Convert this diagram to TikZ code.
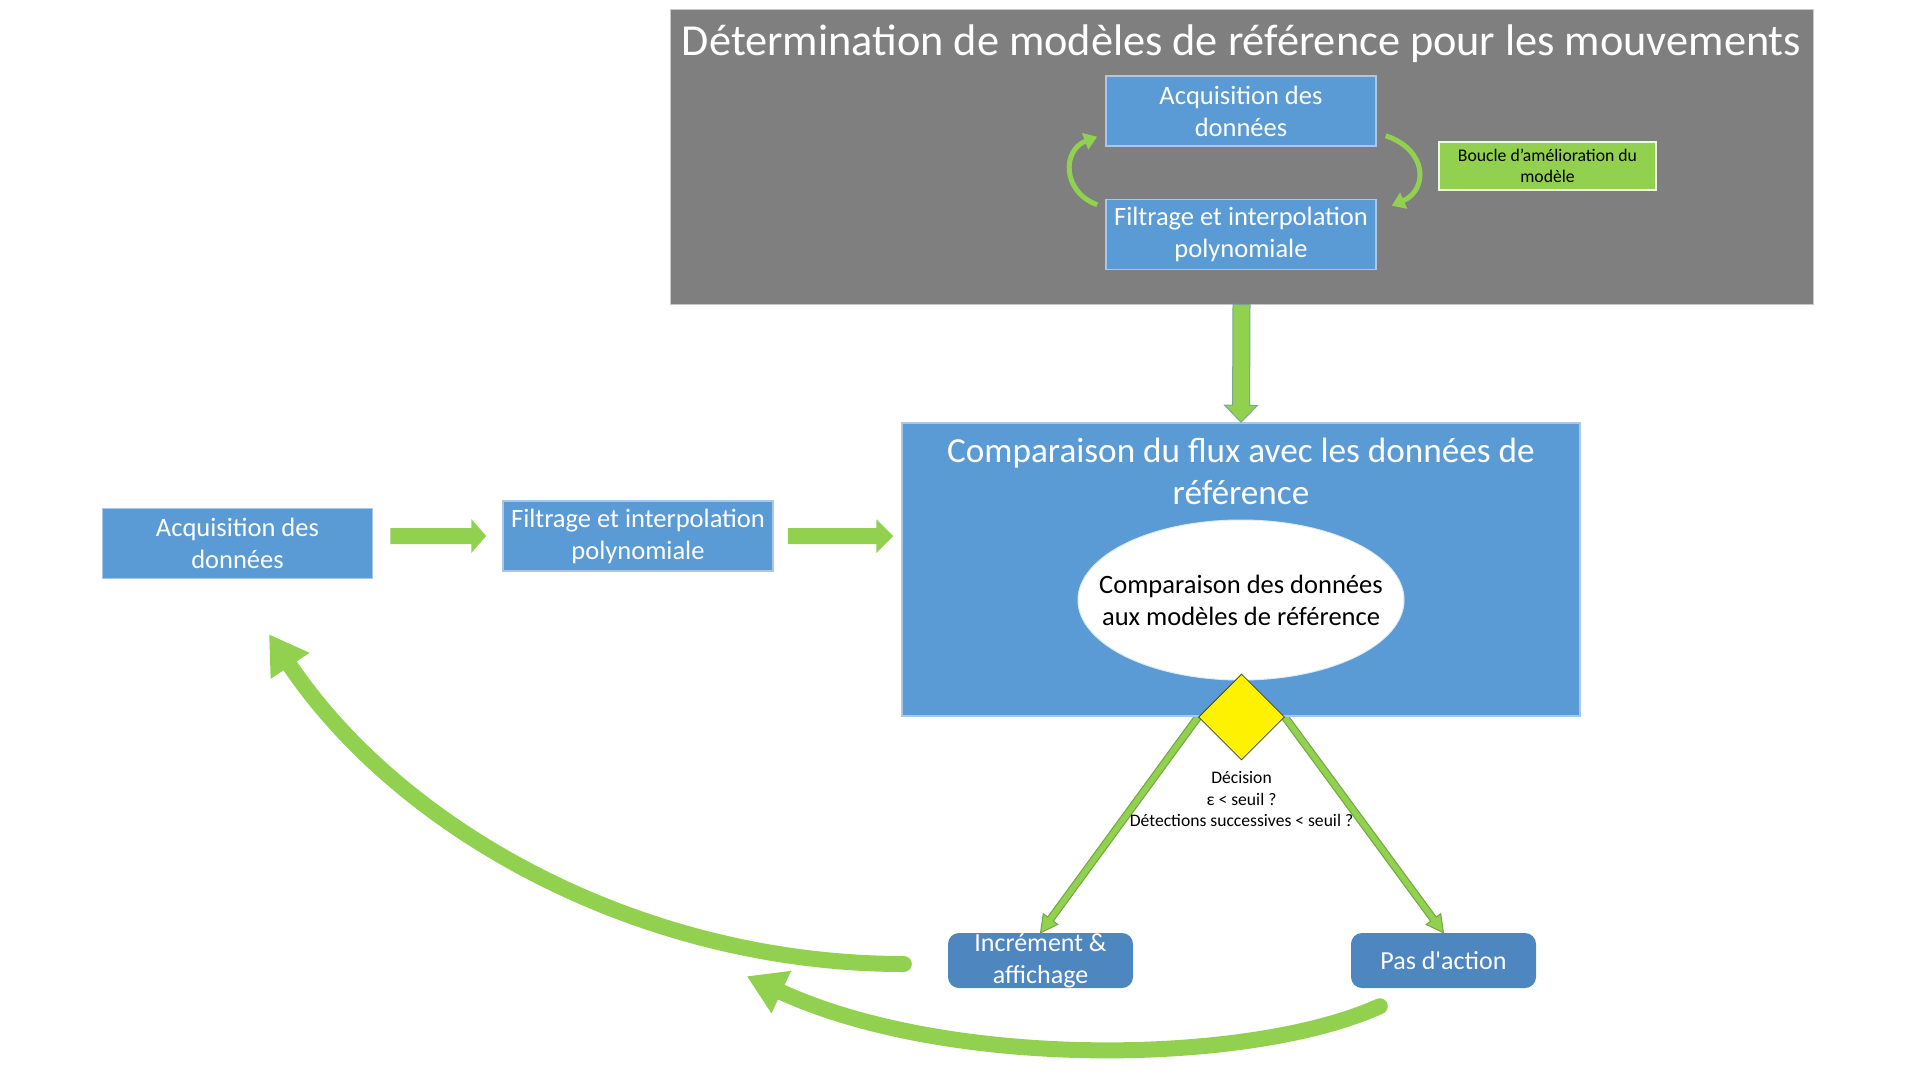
\documentclass[tikz,border=0pt]{standalone}
\usepackage{fontspec}
\setmainfont{Carlito}[Ligatures=TeXOff]
\usetikzlibrary{calc,shapes.geometric,arrows.meta}
\definecolor{gbox}{HTML}{7F7F7F}
\definecolor{gline}{HTML}{C8C8C8}
\definecolor{bbox}{HTML}{5B9BD5}
\definecolor{bline}{HTML}{A9C7E8}
\definecolor{dbox}{HTML}{4E86BF}
\definecolor{grn}{HTML}{92D050}
\definecolor{grnd}{HTML}{6FA83E}
\definecolor{grnb}{HTML}{78A890}
\pgfdeclarelayer{bg}
\pgfsetlayers{bg,main}
\newcommand\blkarrow[6]{%
  \path (#2) coordinate (ba-s) (#3) coordinate (ba-tip);
  \path ($(ba-tip)!#6!(ba-s)$) coordinate (ba-h);
  \filldraw[#1] ($(ba-s)!#4!90:(ba-tip)$) -- ($(ba-h)!#4!90:(ba-tip)$) -- ($(ba-h)!#5!90:(ba-tip)$) -- (ba-tip)
     -- ($(ba-h)!#5!-90:(ba-tip)$) -- ($(ba-h)!#4!-90:(ba-tip)$) -- ($(ba-s)!#4!-90:(ba-tip)$) -- cycle;}
\begin{document}
\begin{tikzpicture}[x=1pt,y=-1pt,
  box/.style={draw=bline, line width=1.5pt, fill=bbox, text=white, align=center,
    font=\fontsize{26.5}{32}\selectfont, minimum width=270pt, minimum height=70pt, inner sep=0pt},
  rbox/.style={fill=dbox, rounded corners=11pt, text=white, align=center,
    font=\fontsize{26}{32}\selectfont, minimum width=185pt, minimum height=55pt, inner sep=0pt},
  lbl/.style={fill=grn, draw=white!85!grn, line width=1.2pt, align=center, text=black,
    font=\fontsize{17.7}{21}\selectfont, minimum width=217pt, minimum height=48pt, inner sep=0pt},
  bigcurve/.style={draw=grn, line width=16pt, line cap=round, -{Triangle[width=44pt,length=38pt]}},
  loopcurve/.style={draw=grn, line width=5pt, -{Triangle[width=17pt,length=13pt]}},
  flatarrow/.style={fill=grn, draw=none},
  vertarrow/.style={fill=grn, draw=grnb, line width=1pt},
  diagarrow/.style={fill=grn, draw=grnd, line width=1pt}
]
\useasboundingbox (0,0) rectangle (1920,1080);
\begin{pgfonlayer}{bg}
\fill[white] (0,0) rectangle (1920,1080);
\end{pgfonlayer}

% top panel
\node[fill=gbox, draw=gline, line width=1pt, minimum width=1143pt, minimum height=295pt, inner sep=0pt] (det) at (1241.5,156.5) {};
\node[text=white, font=\fontsize{44.3}{50}\selectfont, inner sep=0pt] (dett) at (1241.5,44) {Détermination de modèles de référence pour les mouvements};
\node[box] (acq1) at (1241,111) {Acquisition des\\données};
\node[box] (fil1) at (1241,234.5) {Filtrage et interpolation\\polynomiale};
\node[lbl] (boucle) at (1547.5,166) {Boucle d’amélioration du\\modèle};

\coordinate (l1s) at ($(fil1.north west)+(-8,6)$);
\coordinate (l1e) at ($(acq1.south west)+(-8,-10)$);
\coordinate (r1s) at ($(acq1.south east)+(9,-11)$);
\coordinate (r1e) at ($(fil1.north east)+(15,7)$);
\draw[loopcurve] (l1s) .. controls (1062,192) and (1062,150) .. (l1e);
\draw[loopcurve] (r1s) .. controls (1428,150) and (1428,190) .. (r1e);

% comparison block
\node[fill=bbox, draw=bline, line width=1.5pt, minimum width=678pt, minimum height=293pt, inner sep=0pt] (cmp) at (1241,569.5) {};
\node[text=white, align=center, font=\fontsize{35.2}{42}\selectfont, inner sep=0pt] (cmpt) at (1241,471) {Comparaison du flux avec les données de\\référence};
\node[ellipse, fill=white, draw=white!80!bbox, line width=1pt, minimum width=326pt, minimum height=160pt, inner sep=0pt] (ell) at (1241,600) {};
\node[align=center, font=\fontsize{26.5}{32}\selectfont, inner sep=0pt] (ellt) at (ell.center) {Comparaison des données\\aux modèles de référence};
\node[diamond, fill=yellow, draw=black!75, line width=0.8pt, minimum width=86pt, minimum height=86pt, inner sep=0pt] (dia) at (1241.5,717) {};
\node[align=center, font=\fontsize{17.6}{21.5}\selectfont, inner sep=0pt] (dec) at (1241.5,799) {Décision\\ε < seuil ?\\Détections successives < seuil ?};

\blkarrow{vertarrow}{det.south}{cmp.north}{8.5pt}{16.5pt}{17pt}

% input chain
\node[box] (acq2) at (237.5,543.5) {Acquisition des\\données};
\node[box] (fil2) at (638,536) {Filtrage et interpolation\\polynomiale};
\coordinate (h1s) at ($(acq2.east |- fil2.west)+(17,0)$);
\coordinate (h1e) at ($(fil2.west)+(-16,0)$);
\coordinate (h2s) at ($(fil2.east)+(14,0)$);
\coordinate (h2e) at ($(cmp.west |- fil2.east)+(-8,0)$);
\blkarrow{flatarrow}{h1s}{h1e}{8pt}{17pt}{15pt}
\blkarrow{flatarrow}{h2s}{h2e}{8pt}{17pt}{17pt}

% outcomes
\node[rbox] (inc) at (1040.5,960.5) {Incrément \&\\affichage};
\node[rbox] (pas) at (1443.5,960.5) {Pas d'action};
\begin{pgfonlayer}{bg}
\blkarrow{diagarrow}{dia.west}{inc.north}{3.5pt}{9pt}{17pt}
\blkarrow{diagarrow}{dia.east}{pas.north}{3.5pt}{9pt}{17pt}
\end{pgfonlayer}

% feedback curves
\coordinate (c1s) at ($(inc.west)+(-44,3.5)$);
\coordinate (c1e) at ($(acq2.south)+(31.5,55)$);
\coordinate (c2s) at ($(pas.south west)+(29,18)$);
\coordinate (c2e) at ($(inc.south west)+(-201,-12)$);
\draw[bigcurve] (c1s) .. controls (640,964) and (400,830) .. (c1e);
\draw[bigcurve] (c2s) .. controls (1250,1065) and (950,1070) .. (c2e);
\end{tikzpicture}
\end{document}
